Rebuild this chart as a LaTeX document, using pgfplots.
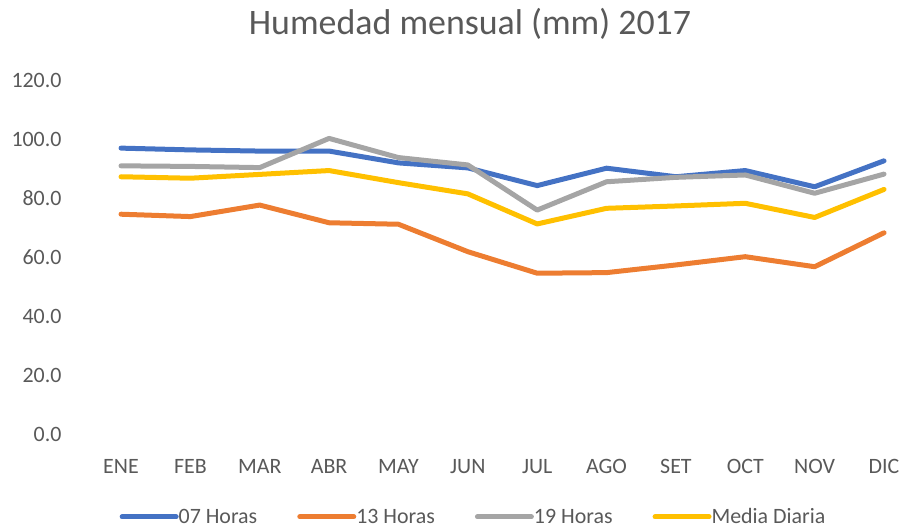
\documentclass[border=0pt]{standalone}
\usepackage{fontspec}
\setmainfont{Carlito}
\usepackage{pgfplots}
\pgfplotsset{compat=1.18}
\definecolor{cblue}{HTML}{4472C4}
\definecolor{corange}{HTML}{ED7D31}
\definecolor{cgray}{HTML}{A5A5A5}
\definecolor{cyellow}{HTML}{FFC000}
\definecolor{ctext}{HTML}{595959}
\begin{document}
\begin{tikzpicture}[x=1bp,y=1bp]
\path[use as bounding box] (0,0) rectangle (907,531);
\node[text=ctext, font=\fontsize{36}{40}\selectfont] at (470,507) {Humedad mensual (mm) 2017};
\begin{axis}[
  at={(121bp,97bp)}, anchor=south west,
  scale only axis, width=763bp, height=354bp,
  xmin=0, xmax=11, ymin=0, ymax=120,
  axis line style={draw=none},
  clip=false,
  xtick={0,...,11},
  xticklabels={ENE,FEB,MAR,ABR,MAY,JUN,JUL,AGO,SET,OCT,NOV,DIC},
  ytick={0,20,...,120},
  major tick length=0pt,
  tick style={draw=none},
  /pgf/number format/assume math mode=true,
  yticklabel style={/pgf/number format/.cd, fixed, fixed zerofill, precision=1, /tikz/.cd, anchor=east, xshift=-56bp, text=ctext, font=\fontsize{22}{26}\selectfont},
  xticklabel style={anchor=north, yshift=-22bp, text=ctext, font=\fontsize{22}{26}\selectfont},
  every axis plot/.append style={line width=5bp, line cap=round, line join=round},
  legend columns=4,
  legend style={at={(0.462,-0.234)}, anchor=center, draw=none, fill=none, text=ctext, font=\fontsize{22}{26}\selectfont,
    /tikz/every even column/.append style={column sep=38bp}, inner sep=0pt},
  legend image code/.code={\draw[#1, line width=5bp, line cap=round] (0bp,0bp) -- (54bp,0bp);},
  legend cell align=left,
]
\addplot[cblue] coordinates {(0,96.9) (1,96.3) (2,95.9) (3,95.9) (4,91.9) (5,90.2) (6,84.2) (7,90.1) (8,87.2) (9,89.3) (10,83.8) (11,92.6)};
\addlegendentry{\hspace{-2bp}07 Horas}
\addplot[corange] coordinates {(0,74.5) (1,73.7) (2,77.6) (3,71.6) (4,71.1) (5,61.8) (6,54.5) (7,54.7) (8,57.3) (9,60.1) (10,56.7) (11,68.2)};
\addlegendentry{\hspace{-2bp}13 Horas}
\addplot[cgray] coordinates {(0,90.9) (1,90.7) (2,90.3) (3,100.2) (4,93.7) (5,91.2) (6,75.9) (7,85.5) (8,87.0) (9,87.8) (10,81.6) (11,88.1)};
\addlegendentry{\hspace{-2bp}19 Horas}
\addplot[cyellow] coordinates {(0,87.2) (1,86.7) (2,88.0) (3,89.3) (4,85.2) (5,81.4) (6,71.2) (7,76.5) (8,77.3) (9,78.2) (10,73.4) (11,82.9)};
\addlegendentry{\hspace{-2bp}Media Diaria}
\end{axis}
\end{tikzpicture}
\end{document}
